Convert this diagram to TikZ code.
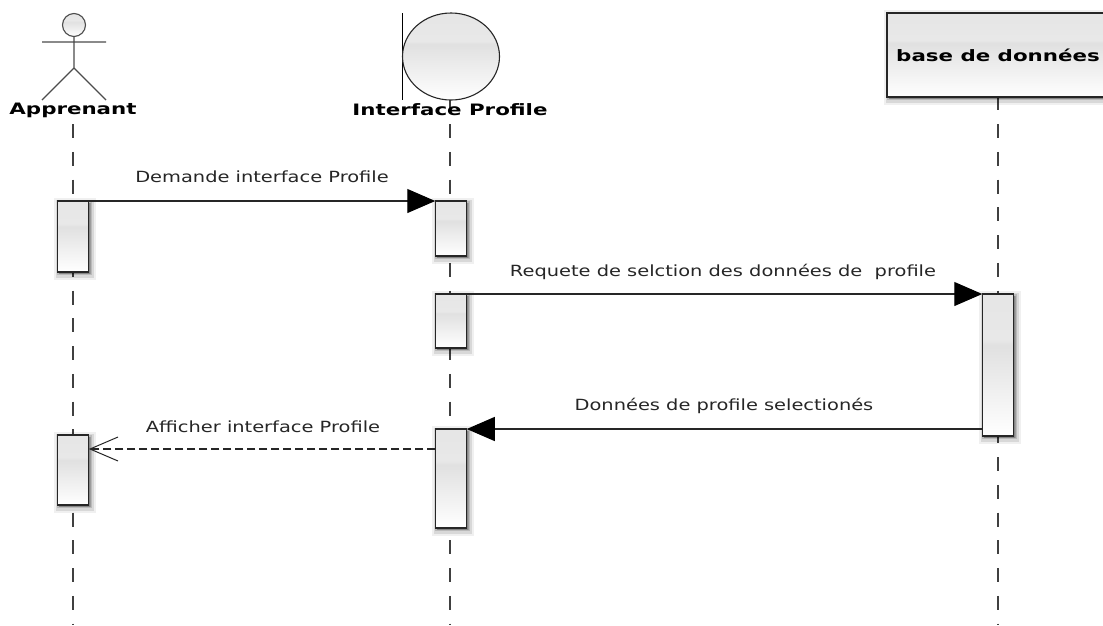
\documentclass[tikz,border=0pt]{standalone}
\usepackage{fontspec}
\setmainfont{DejaVu Sans}
\newfontfamily\messagefont[FakeStretch=1.26]{DejaVu Sans}
\newfontfamily\titlefont[FakeStretch=1.36]{DejaVu Sans Bold}
\usetikzlibrary{arrows.meta}
\usetikzlibrary{shadows}
\usetikzlibrary{shapes.geometric}
\pgfdeclareverticalshading{gloss}{100bp}{color(0bp)=(white); color(25bp)=(white); color(57bp)=(black!12); color(59bp)=(black!9); color(75bp)=(black!10); color(100bp)=(black!10)}
\tikzset{softshadow/.style={general shadow={shadow xshift=2pt,shadow yshift=-2pt,fill=black,opacity=.06,draw=black,draw opacity=.06,line width=11pt},
                            general shadow={shadow xshift=2pt,shadow yshift=-2pt,fill=black,opacity=.10,draw=black,draw opacity=.10,line width=7pt},
                            general shadow={shadow xshift=1.5pt,shadow yshift=-1.5pt,fill=black,opacity=.14,draw=black,draw opacity=.14,line width=3pt}}}
\tikzset{bar/.style={rectangle,draw=black!85,line width=1.2pt,shading=gloss,softshadow,minimum width=31.5pt,inner sep=0pt,outer sep=0pt}}
\tikzset{lifeline/.style={draw=black!75,line width=1.1pt,dash pattern=on 14pt off 13.75pt}}
\tikzset{message/.style={font=\fontsize{15.4}{17}\messagefont,text=black!85,inner sep=0pt}}
\tikzset{title/.style={font=\fontsize{15.7}{17}\titlefont,text=black,inner sep=0pt}}
\tikzset{callline/.style={draw=black!85,line width=1.1pt}}
\tikzset{filledtip/.style={-{Triangle[length=28pt,width=24pt,color=black]}}}
\begin{document}
\begin{tikzpicture}[x=1pt,y=-1pt,>=latex]
  \useasboundingbox (0,0) rectangle (1103,625);
  \clip (0,0) rectangle (1103,625);
  % Lifelines go first, the bars sit on top of them
  \coordinate (top_a) at (73,124);
  \coordinate (top_i) at (450,96.25);
  \coordinate (top_d) at (998,96.25);
  \coordinate (end_a) at (73,625);
  \coordinate (end_i) at (450,625);
  \coordinate (end_d) at (998,625);
  \draw[lifeline] (top_a) -- (end_a);
  \draw[lifeline] (top_i) -- (end_i);
  \draw[lifeline] (top_d) -- (end_d);

  % Apprenant
  \node (head) [circle,draw=black!70,line width=1.1pt,shading=gloss,minimum size=23pt,inner sep=0pt] at (74,25) {};
  \coordinate (arm_l) at (42,42);
  \coordinate (arm_r) at (106,42);
  \coordinate (hip) at (74,68);
  \coordinate (foot_l) at (42,100);
  \coordinate (foot_r) at (106,100);
  \draw[draw=black!70,line width=1.1pt] (head) -- (hip) (arm_l) -- (arm_r) (foot_l) -- (hip) -- (foot_r);
  \node (apprenant) [title] at (73,110) {Apprenant};

  % Interface Profile
  \coordinate (wall_t) at (402.5,13);
  \coordinate (wall_b) at (402.5,100);
  \draw[draw=black,line width=1.1pt] (wall_t) -- (wall_b);
  \node (boundary) [ellipse,draw=black!85,line width=1.1pt,shading=gloss,minimum width=97pt,minimum height=87pt,inner sep=0pt] at (451,56.5) {};
  \node (interface) [title] at (450,110) {Interface Profile};

  % base de donnees
  \node (base) [title,rectangle,draw=black!85,line width=1.2pt,shading=gloss,softshadow,minimum width=222pt,minimum height=84pt] at (998,55) {base de données};

  % Activation bars
  \node (bar_a1) [bar,minimum height=71pt] at (73,236.5) {};
  \node (bar_a2) [bar,minimum height=70pt] at (73,470) {};
  \node (bar_i1) [bar,minimum height=55pt] at (451,228.5) {};
  \node (bar_i2) [bar,minimum height=54pt] at (451,321) {};
  \node (bar_i3) [bar,minimum height=99pt] at (451,478.5) {};
  \node (bar_d) [bar,minimum height=142pt] at (998,365) {};

  % Calls
  \draw[callline,filledtip] (bar_a1.north east) -- (bar_i1.north west);
  \draw[callline,filledtip] (bar_i2.north east) -- (bar_d.north west);
  \draw[callline,filledtip] ([yshift=-135pt]bar_d.north west) -- (bar_i3.north east);
  \draw[callline,dash pattern=on 8pt off 4pt,-{Straight Barb[length=28pt,width=24pt,line width=1pt]}] ([yshift=-20pt]bar_i3.north west) -- ([yshift=-14pt]bar_a2.north east);

  % Labels
  \node (demande) [message] at (262,177) {Demande interface Profile};
  \node (requete) [message] at (723,272) {Requete de selction des données de\ \ profile};
  \node (donnees) [message] at (724,406) {Données de profile selectionés};
  \node (afficher) [message] at (263,427) {Afficher interface Profile};
\end{tikzpicture}
\end{document}
